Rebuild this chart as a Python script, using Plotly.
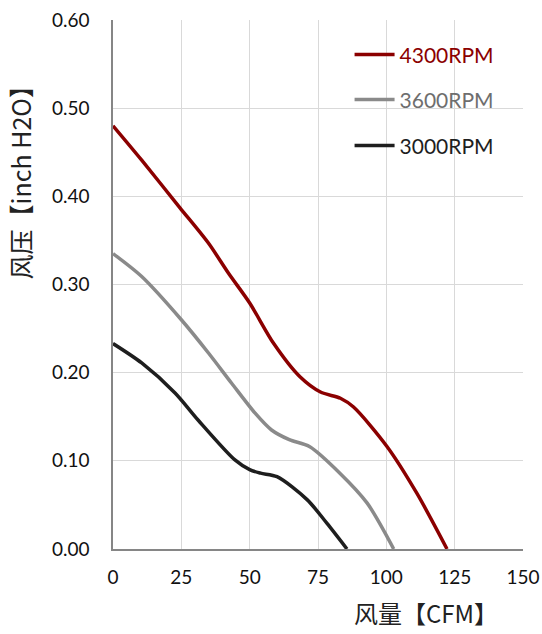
import plotly.graph_objects as go

# Data
x_4300 = [0, 10.5, 24.5, 34.9, 42.2, 50, 58.8, 68.5, 75.9, 83.2, 88, 100.3, 111.2, 122.2]
y_4300 = [0.480, 0.441, 0.387, 0.347, 0.313, 0.279, 0.233, 0.195, 0.178, 0.171, 0.161, 0.116, 0.063, 0.0]

x_3600 = [0, 10.5, 25, 35, 43.4, 52, 58, 64.5, 72, 83, 93, 102.7]
y_3600 = [0.335, 0.309, 0.260, 0.222, 0.188, 0.154, 0.135, 0.124, 0.116, 0.086, 0.052, 0.0]

x_3000 = [0, 10.5, 22.7, 31.2, 44.6, 50, 54, 60, 71, 78.3, 85.6]
y_3000 = [0.233, 0.211, 0.177, 0.146, 0.101, 0.090, 0.086, 0.082, 0.056, 0.029, 0.0]

series_names = ["4300RPM", "3600RPM", "3000RPM"]
series_colors = ["#8b0000", "#8a8a8a", "#1e1e1e"]
text_colors = ["#8b0000", "#6e6e6e", "#1e1e1e"]
x_ticks = [0, 25, 50, 75, 100, 125, 150]
y_ticks = [0.0, 0.1, 0.2, 0.3, 0.4, 0.5, 0.6]
y_ticklabels = ["0.00", "0.10", "0.20", "0.30", "0.40", "0.50", "0.60"]

fig = go.Figure()
data = [(x_4300, y_4300), (x_3600, y_3600), (x_3000, y_3000)]
legends = ["legend", "legend2", "legend3"]
for (xs, ys), name, color, tcolor, lg in zip(data, series_names, series_colors, text_colors, legends):
    fig.add_trace(go.Scatter(
        x=xs, y=ys, mode="lines",
        line=dict(color=color, width=3.5, shape="spline", smoothing=0.8),
        name=f"<span style='color:{tcolor}'>{name}</span>",
        legend=lg, showlegend=True,
    ))

font_family = "Lato, 'Noto Sans', sans-serif"
legend_common = dict(
    xanchor="left", yanchor="middle", x=0.577,
    bgcolor="rgba(0,0,0,0)", borderwidth=0,
    font=dict(family=font_family, size=21, color="#333"),
    itemwidth=40,
)

fig.update_layout(
    width=542, height=634,
    margin=dict(l=113, r=19, t=20, b=85, autoexpand=False),
    paper_bgcolor="white", plot_bgcolor="white",
    legend=dict(y=0.934, **legend_common),
    legend2=dict(y=0.849, **legend_common),
    legend3=dict(y=0.762, **legend_common),
    xaxis=dict(
        range=[0, 150], tickvals=x_ticks, ticktext=[str(v) for v in x_ticks],
        showgrid=True, gridcolor="#d9d9d9", gridwidth=1,
        showline=True, linecolor="#868686", linewidth=1.5,
        zeroline=False, ticks="",
        tickfont=dict(family=font_family, size=19, color="#111"),
        ticklabelstandoff=10,
    ),
    yaxis=dict(
        range=[0, 0.6], tickvals=y_ticks, ticktext=y_ticklabels,
        showgrid=True, gridcolor="#d9d9d9", gridwidth=1,
        showline=True, linecolor="#868686", linewidth=1.5,
        zeroline=False, ticks="",
        tickfont=dict(family=font_family, size=19, color="#111"),
        ticklabelstandoff=18,
    ),
    annotations=[
        dict(text="风量【CFM】", xref="paper", yref="paper", x=0.764, y=-0.12,
             showarrow=False, xanchor="center", yanchor="middle",
             font=dict(family="'Noto Sans CJK SC', sans-serif", size=24, color="#222")),
        dict(text="风压【inch H2O】", xref="paper", yref="paper", x=-0.226, y=0.705,
             showarrow=False, xanchor="center", yanchor="middle", textangle=-90,
             font=dict(family="'Noto Sans CJK SC', sans-serif", size=25, color="#222")),
    ],
)

fig.write_html("out.html", config={"displayModeBar": False},
               post_script="document.body.style.margin='0';document.body.style.overflow='hidden';")
